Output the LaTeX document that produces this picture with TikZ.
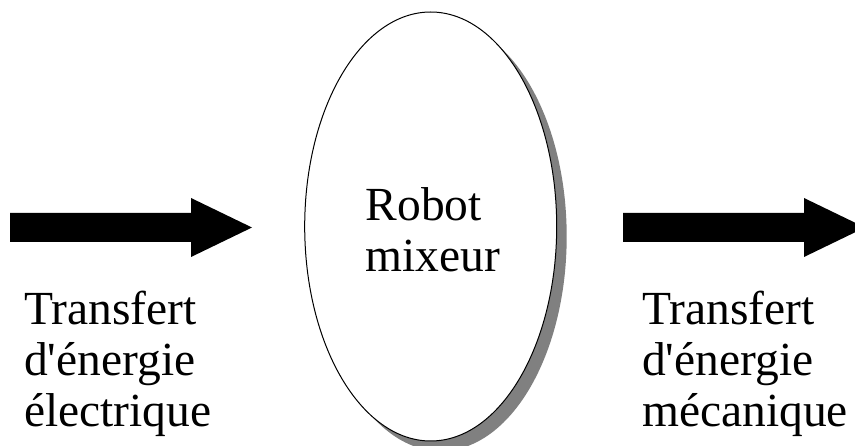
\documentclass[tikz,border=0pt]{standalone}
\usepackage{fontspec}
\setmainfont{Liberation Serif}[Ligatures=TeXOff]
\usetikzlibrary{shapes.geometric}
\begin{document}
\begin{tikzpicture}[x=1pt,y=-1pt,
  lbl/.style={font=\fontsize{47.5}{51}\selectfont, inner sep=0pt, align=left, anchor=base west},
  blob/.style={ellipse, minimum width=252pt, minimum height=429pt, inner sep=0pt},
  shadowblob/.style={blob, fill=black!50, draw=none},
  mainblob/.style={blob, draw=black, line width=1pt, fill=white},
  bigarrow/.style={fill=black, draw=none}]
\useasboundingbox (0,0) rectangle (855,446);
\clip (0,0) rectangle (855,446);
\fill[white] (0,0) rectangle (855,446);
% arrows
\fill[bigarrow] (10,213) -- (191,213) -- (191,198) -- (252,227.5) -- (191,257) -- (191,242) -- (10,242) -- cycle;
\fill[bigarrow] (623,213) -- (804,213) -- (804,198) -- (865,227.5) -- (804,257) -- (804,242) -- (623,242) -- cycle;
% ellipse with shadow
\node[shadowblob] (shadow) at (440.7,236.5) {};
\node[mainblob] (robot) at (430.7,226.5) {};
% texts (base anchor = baseline of the last line)
\node[lbl] (center) at (365.5,272) {Robot\\mixeur};
\node[lbl] (left) at (24,427) {Transfert\\d'énergie\\électrique};
\node[lbl] (right) at (642,427) {Transfert\\d'énergie\\mécanique};
\end{tikzpicture}
\end{document}
